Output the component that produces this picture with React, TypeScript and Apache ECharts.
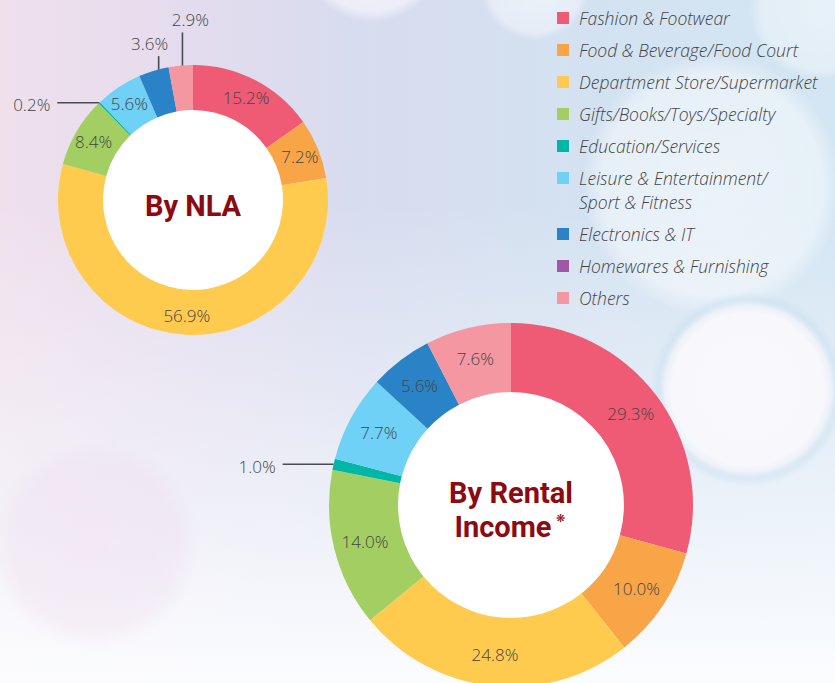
import React, { useEffect, useRef } from 'react';
import * as echarts from 'echarts';

// ---------- data ----------
const categories = [
  'Fashion & Footwear',
  'Food & Beverage/Food Court',
  'Department Store/Supermarket',
  'Gifts/Books/Toys/Specialty',
  'Education/Services',
  'Leisure & Entertainment/Sport & Fitness',
  'Electronics & IT',
  'Homewares & Furnishing',
  'Others',
];
const legendLabels = [
  'Fashion & Footwear',
  'Food & Beverage/Food Court',
  'Department Store/Supermarket',
  'Gifts/Books/Toys/Specialty',
  'Education/Services',
  'Leisure & Entertainment/\nSport & Fitness',
  'Electronics & IT',
  'Homewares & Furnishing',
  'Others',
];
const colors = ['#ef5a74', '#f8a548', '#fecb4f', '#a3cf62', '#00b6a6', '#6fd1f6', '#2a82c7', '#a057a6', '#f597a1'];
const nlaValues = [15.2, 7.2, 56.9, 8.4, 0.2, 5.6, 3.6, 0, 2.9];
const rentalValues = [29.3, 10.0, 24.8, 14.0, 1.0, 7.7, 5.6, 0, 7.6];
const nlaTitle = 'By NLA';
const rentalTitleLines = ['By Rental', 'Income'];
const rentalMark = '❋';

// ---------- layout / style ----------
const FONT = '"Open Sans", "Noto Sans", "DejaVu Sans", sans-serif';
const TITLE_FONT = 'Roboto, "Open Sans", sans-serif';
const LABEL_COLOR = '#444444';
const TITLE_COLOR = '#8c0a10';
const nlaCenter = [193, 200];
const nlaRadius = [90, 135];
const rentalCenter = [511, 505];
const rentalRadius = [113, 182];

type Callout = { at: 'outer' | number; dir: 'left' | 'up'; len: number; dx: number };
const nlaCallouts: Record<string, Callout> = {
  'Education/Services': { at: 'outer', dir: 'left', len: 42, dx: 0 },
  'Electronics & IT': { at: 118, dir: 'up', len: 31, dx: -9 },
  Others: { at: 116, dir: 'up', len: 52, dx: 8 },
};
const rentalCallouts: Record<string, Callout> = {
  'Education/Services': { at: 'outer', dir: 'left', len: 51, dx: 0 },
};

function buildSeries(values: number[], center: number[], radius: number[], callouts: Record<string, Callout>) {
  const data = categories
    .map((name, i) => ({ name, value: values[i], itemStyle: { color: colors[i] } }))
    .filter((d) => d.value > 0)
    .map((d) =>
      callouts[d.name]
        ? { ...d, label: { position: 'outside' }, labelLine: { show: true } }
        : d
    );
  const total = data.reduce((s, d) => s + d.value, 0);
  let cum = 0;
  const anchors = data.map((d) => {
    const mid = cum + d.value / 2;
    cum += d.value;
    const c = callouts[d.name];
    if (!c) return null;
    const theta = ((90 - (360 * mid) / total) * Math.PI) / 180;
    const r = c.at === 'outer' ? radius[1] : c.at;
    const ax = center[0] + r * Math.cos(theta);
    const ay = center[1] - r * Math.sin(theta);
    return { ax, ay, c };
  });
  return {
    type: 'pie',
    center,
    radius,
    startAngle: 90,
    clockwise: true,
    avoidLabelOverlap: false,
    silent: true,
    z: 2,
    itemStyle: { borderWidth: 0 },
    label: {
      show: true,
      position: 'inside',
      formatter: (p: any) => Number(p.value).toFixed(1) + '%',
      fontSize: 17,
      fontWeight: 300,
      fontFamily: FONT,
      color: LABEL_COLOR,
    },
    labelLine: { show: false, smooth: false, lineStyle: { color: '#4a4a52', width: 1.6 } },
    labelLayout: (params: any) => {
      const a = anchors[params.dataIndex];
      if (!a) return {};
      const { ax, ay, c } = a;
      if (c.dir === 'left') {
        const ex = ax - c.len;
        return {
          x: ex - 7,
          y: ay + 2,
          align: 'right',
          verticalAlign: 'middle',
          labelLinePoints: [[ax, ay], [ex, ay], [ex, ay]],
        };
      }
      const ey = ay - c.len;
      return {
        x: ax + c.dx,
        y: ey - 13,
        align: 'center',
        verticalAlign: 'middle',
        labelLinePoints: [[ax, ay], [ax, ey], [ax, ey]],
      };
    },
    data,
  };
}

function softCircle(cx: number, cy: number, r: number, stops: [number, string][]) {
  return {
    type: 'circle',
    z: -10,
    silent: true,
    shape: { cx, cy, r },
    style: {
      fill: new echarts.graphic.RadialGradient(0.5, 0.5, 0.5, stops.map(([offset, color]) => ({ offset, color }))),
    },
  };
}

function buildLegend() {
  const els: any[] = [];
  let y = 18;
  legendLabels.forEach((label, i) => {
    const lines = label.split('\n').length;
    els.push({
      type: 'rect',
      z: 50,
      silent: true,
      shape: { x: 557, y: y - 6, width: 12, height: 12 },
      style: { fill: colors[i] },
    });
    els.push({
      type: 'text',
      z: 50,
      silent: true,
      x: 579,
      y: y - 12,
      style: {
        text: label,
        fill: '#444444',
        fontSize: 17.5,
        fontWeight: 300,
        fontStyle: 'italic',
        fontFamily: FONT,
        lineHeight: 24,
        align: 'left',
        verticalAlign: 'top',
      },
    });
    y += 32 + (lines - 1) * 24;
  });
  return els;
}

const titleStyle = { fill: TITLE_COLOR, fontWeight: 'bold', fontFamily: TITLE_FONT, verticalAlign: 'middle' };

export default function App() {
  const ref = useRef<HTMLDivElement>(null);
  useEffect(() => {
    if (!ref.current) return;
    const chart = echarts.init(ref.current, undefined, { renderer: 'svg' });
    const option = {
      animation: false,
      backgroundColor: 'transparent',
      graphic: [
        // bokeh background
        softCircle(95, 545, 105, [[0, 'rgba(238,218,236,0.4)'], [0.8, 'rgba(236,218,236,0.32)'], [1, 'rgba(236,218,236,0)']]),
        softCircle(712, 185, 130, [[0, 'rgba(255,255,255,0.55)'], [0.85, 'rgba(255,255,255,0.45)'], [1, 'rgba(255,255,255,0)']]),
        softCircle(748, 389, 98, [[0, 'rgba(249,249,253,1)'], [0.78, 'rgba(247,247,252,1)'], [0.85, 'rgba(238,242,249,0.9)'], [0.92, 'rgba(200,224,239,0.45)'], [1, 'rgba(200,224,239,0)']]),
        softCircle(372, -50, 72, [[0, 'rgba(255,255,255,0.7)'], [0.85, 'rgba(250,248,253,0.6)'], [1, 'rgba(250,248,253,0)']]),
        softCircle(535, -15, 55, [[0, 'rgba(255,255,255,0.6)'], [0.85, 'rgba(248,248,253,0.5)'], [1, 'rgba(248,248,253,0)']]),
        softCircle(820, 10, 70, [[0, 'rgba(255,255,255,0.45)'], [0.85, 'rgba(255,255,255,0.35)'], [1, 'rgba(255,255,255,0)']]),
        // donut holes
        { type: 'circle', z: 0, silent: true, shape: { cx: nlaCenter[0], cy: nlaCenter[1], r: nlaRadius[0] + 0.5 }, style: { fill: '#ffffff' } },
        { type: 'circle', z: 0, silent: true, shape: { cx: rentalCenter[0], cy: rentalCenter[1], r: rentalRadius[0] + 0.5 }, style: { fill: '#ffffff' } },
        // centre titles
        {
          type: 'text', z: 60, silent: true, x: nlaCenter[0], y: nlaCenter[1] + 6,
          style: { ...titleStyle, text: nlaTitle, fontSize: 29, align: 'center' },
        },
        {
          type: 'text', z: 60, silent: true, x: rentalCenter[0], y: rentalCenter[1] - 12,
          style: { ...titleStyle, text: rentalTitleLines[0], fontSize: 29, align: 'center' },
        },
        {
          type: 'text', z: 60, silent: true, x: rentalCenter[0] - 8, y: rentalCenter[1] + 22,
          style: { ...titleStyle, text: rentalTitleLines[1], fontSize: 29, align: 'center' },
        },
        {
          type: 'text', z: 60, silent: true, x: rentalCenter[0] + 45, y: rentalCenter[1] + 13,
          style: { text: rentalMark, fill: TITLE_COLOR, fontSize: 11, fontFamily: '"DejaVu Sans", sans-serif', align: 'left', verticalAlign: 'middle' },
        },
        ...buildLegend(),
      ],
      series: [
        buildSeries(nlaValues, nlaCenter, nlaRadius, nlaCallouts),
        buildSeries(rentalValues, rentalCenter, rentalRadius, rentalCallouts),
      ],
    };
    chart.setOption(option as any);
    return () => chart.dispose();
  }, []);
  return (
    <div
      ref={ref}
      style={{
        position: 'absolute',
        left: 0,
        top: 0,
        width: 835,
        height: 683,
        overflow: 'hidden',
        background:
          'linear-gradient(180deg, rgba(255,255,255,0) 30%, rgba(246,248,252,0.7) 75%, rgba(252,253,255,0.98) 100%), linear-gradient(90deg, #f0e0ec 0%, #e4dcee 22%, #d8dcef 42%, #d3e2f1 70%, #d3e6f3 100%)',
      }}
    />
  );
}
